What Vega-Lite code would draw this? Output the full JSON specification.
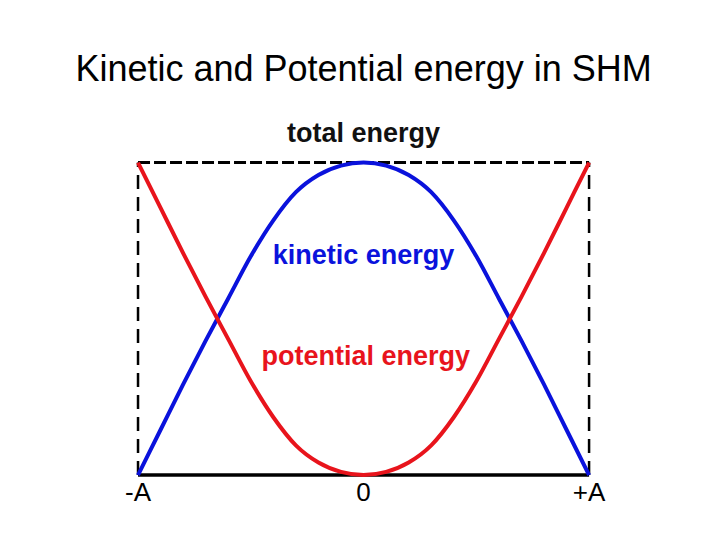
{
  "$schema": "https://vega.github.io/schema/vega-lite/v6.json",
  "width": 728,
  "height": 546,
  "autosize": {"type": "fit", "contains": "padding"},
  "padding": 0,
  "background": "white",
  "config": {"view": {"stroke": null}},
  "datasets": {
    "energy": [
      {"x": -1.0, "energy": "kinetic", "e": 0.0},
      {"x": -0.9, "energy": "kinetic", "e": 0.145},
      {"x": -0.8, "energy": "kinetic", "e": 0.29},
      {"x": -0.7, "energy": "kinetic", "e": 0.43},
      {"x": -0.6, "energy": "kinetic", "e": 0.565},
      {"x": -0.5, "energy": "kinetic", "e": 0.7},
      {"x": -0.4, "energy": "kinetic", "e": 0.815},
      {"x": -0.3, "energy": "kinetic", "e": 0.905},
      {"x": -0.2, "energy": "kinetic", "e": 0.96},
      {"x": -0.1, "energy": "kinetic", "e": 0.99},
      {"x": 0.0, "energy": "kinetic", "e": 1.0},
      {"x": 0.1, "energy": "kinetic", "e": 0.99},
      {"x": 0.2, "energy": "kinetic", "e": 0.96},
      {"x": 0.3, "energy": "kinetic", "e": 0.905},
      {"x": 0.4, "energy": "kinetic", "e": 0.815},
      {"x": 0.5, "energy": "kinetic", "e": 0.7},
      {"x": 0.6, "energy": "kinetic", "e": 0.565},
      {"x": 0.7, "energy": "kinetic", "e": 0.43},
      {"x": 0.8, "energy": "kinetic", "e": 0.29},
      {"x": 0.9, "energy": "kinetic", "e": 0.145},
      {"x": 1.0, "energy": "kinetic", "e": 0.0},
      {"x": -1.0, "energy": "potential", "e": 1.0},
      {"x": -0.9, "energy": "potential", "e": 0.855},
      {"x": -0.8, "energy": "potential", "e": 0.71},
      {"x": -0.7, "energy": "potential", "e": 0.57},
      {"x": -0.6, "energy": "potential", "e": 0.435},
      {"x": -0.5, "energy": "potential", "e": 0.3},
      {"x": -0.4, "energy": "potential", "e": 0.185},
      {"x": -0.3, "energy": "potential", "e": 0.095},
      {"x": -0.2, "energy": "potential", "e": 0.04},
      {"x": -0.1, "energy": "potential", "e": 0.01},
      {"x": 0.0, "energy": "potential", "e": 0.0},
      {"x": 0.1, "energy": "potential", "e": 0.01},
      {"x": 0.2, "energy": "potential", "e": 0.04},
      {"x": 0.3, "energy": "potential", "e": 0.095},
      {"x": 0.4, "energy": "potential", "e": 0.185},
      {"x": 0.5, "energy": "potential", "e": 0.3},
      {"x": 0.6, "energy": "potential", "e": 0.435},
      {"x": 0.7, "energy": "potential", "e": 0.57},
      {"x": 0.8, "energy": "potential", "e": 0.71},
      {"x": 0.9, "energy": "potential", "e": 0.855},
      {"x": 1.0, "energy": "potential", "e": 1.0}
    ],
    "ticks": [
      {"x": -1.0, "label": "-A"},
      {"x": 0.0, "label": "0"},
      {"x": 1.0, "label": "+A"}
    ],
    "labels": [
      {"x": 0.0, "e": 1.091, "label": "total energy", "energy": "total"},
      {"x": 0.0, "e": 0.70, "label": "kinetic energy", "energy": "kinetic"},
      {"x": 0.01, "e": 0.378, "label": "potential energy", "energy": "potential"}
    ],
    "title": [
      {"x": 0.0, "e": 1.295, "label": "Kinetic and Potential energy in SHM"}
    ],
    "edges": [
      {"x": -1.0, "e": 0.0},
      {"x": -1.0, "e": 1.0},
      {"x": 1.0, "e": 0.0},
      {"x": 1.0, "e": 1.0}
    ],
    "levels": [
      {"e": 1.0, "kind": "total"},
      {"e": 0.0, "kind": "zero"}
    ]
  },
  "layer": [
    {
      "data": {"name": "edges"},
      "mark": {"type": "rule", "color": "black", "strokeWidth": 2.5, "strokeDash": [14, 8]},
      "encoding": {
        "x": {"field": "x", "type": "quantitative", "scale": {"domain": [-1.612, 1.616], "nice": false, "zero": false}, "axis": null},
        "y": {"aggregate": "min", "field": "e", "type": "quantitative", "scale": {"domain": [-0.227, 1.52], "nice": false, "zero": false}, "axis": null},
        "y2": {"aggregate": "max", "field": "e"},
        "detail": {"field": "x"}
      }
    },
    {
      "data": {"name": "levels"},
      "transform": [{"filter": "datum.kind === 'total'"}],
      "mark": {"type": "rule", "color": "black", "strokeWidth": 3, "strokeDash": [12, 4]},
      "encoding": {
        "x": {"datum": -1.0, "type": "quantitative"},
        "x2": {"datum": 1.0},
        "y": {"field": "e", "type": "quantitative"}
      }
    },
    {
      "data": {"name": "levels"},
      "transform": [{"filter": "datum.kind === 'zero'"}],
      "mark": {"type": "rule", "color": "black", "strokeWidth": 3.5},
      "encoding": {
        "x": {"datum": -1.0, "type": "quantitative"},
        "x2": {"datum": 1.0},
        "y": {"field": "e", "type": "quantitative"}
      }
    },
    {
      "data": {"name": "energy"},
      "mark": {"type": "line", "strokeWidth": 4, "interpolate": "monotone"},
      "encoding": {
        "x": {"field": "x", "type": "quantitative"},
        "y": {"field": "e", "type": "quantitative"},
        "color": {
          "field": "energy",
          "type": "nominal",
          "scale": {"domain": ["kinetic", "potential", "total"], "range": ["#0a12dc", "#e8141c", "#111111"]},
          "legend": null
        }
      }
    },
    {
      "data": {"name": "labels"},
      "mark": {"type": "text", "font": "Liberation Sans", "fontSize": 27, "fontWeight": "bold", "baseline": "middle", "align": "center"},
      "encoding": {
        "x": {"field": "x", "type": "quantitative"},
        "y": {"field": "e", "type": "quantitative"},
        "text": {"field": "label"},
        "color": {"field": "energy", "type": "nominal", "legend": null}
      }
    },
    {
      "data": {"name": "ticks"},
      "mark": {"type": "text", "font": "Liberation Sans", "fontSize": 26, "baseline": "top", "align": "center", "dy": 5, "color": "black"},
      "encoding": {
        "x": {"field": "x", "type": "quantitative"},
        "y": {"datum": 0, "type": "quantitative"},
        "text": {"field": "label"}
      }
    },
    {
      "data": {"name": "title"},
      "mark": {"type": "text", "font": "Liberation Sans", "fontSize": 36, "baseline": "middle", "align": "center", "color": "black"},
      "encoding": {
        "x": {"field": "x", "type": "quantitative"},
        "y": {"field": "e", "type": "quantitative"},
        "text": {"field": "label"}
      }
    }
  ],
  "resolve": {"scale": {"color": "shared"}}
}
